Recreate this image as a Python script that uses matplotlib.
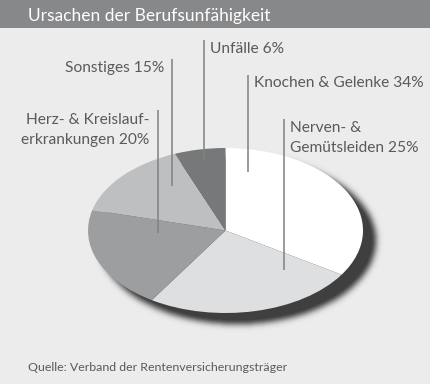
import numpy as np
import matplotlib.pyplot as plt

plt.rcParams['font.family'] = ['Lato', 'DejaVu Sans']

title = 'Ursachen der Berufsunfähigkeit'
source = 'Quelle: Verband der Rentenversicherungsträger'
labels = ['Knochen & Gelenke 34%', 'Nerven- &\nGemütsleiden 25%',
          'Herz- & Kreislauf-\nerkrankungen 20%', 'Sonstiges 15%', 'Unfälle 6%']
shares = [34, 25, 20, 15, 6]
colors = ['#ffffff', '#dedfe0', '#9d9ea0', '#bebfc1', '#77787a']

W, H = 430, 384
fig = plt.figure(figsize=(W / 100, H / 100), dpi=100)
fig.patch.set_facecolor('#ececec')

# background layer in pixel coordinates
bg = fig.add_axes([0, 0, 1, 1])
bg.axis('off')
bg.add_patch(plt.Rectangle((0, 0), W, 28, color='#87888a', lw=0))
bg.text(28, 21, title, color='white', fontsize=12.5, va='baseline')
bg.text(28, 371, source, color='#5a5a5a', fontsize=8.9, va='baseline')

# soft drop shadow under the pie
cx, cy, rx, ry = 225.5, 230.5, 137.5, 82.5
yy, xx = np.mgrid[0:H, 0:W] + 0.5
mask = ((((xx - cx - 12) / (rx + 1)) ** 2 + ((yy - cy - 10) / (ry + 1)) ** 2) <= 1).astype(float)
k = np.exp(-0.5 * (np.arange(-12, 13) / 3.2) ** 2)
k /= k.sum()
mask = np.apply_along_axis(lambda r: np.convolve(r, k, mode='same'), 1, mask)
mask = np.apply_along_axis(lambda c: np.convolve(c, k, mode='same'), 0, mask)
shadow = np.zeros((H, W, 4))
shadow[..., :3] = 0.25
shadow[..., 3] = np.clip(mask * 1.1, 0, 1)
bg.imshow(shadow, extent=(0, W, H, 0), interpolation='bilinear')
bg.set_aspect('auto')
bg.set_xlim(0, W)
bg.set_ylim(H, 0)

# the pie itself, squashed into an ellipse
pax = fig.add_axes([(cx - rx) / W, (H - cy - ry) / H, 2 * rx / W, 2 * ry / H])
pax.pie(shares, colors=colors, startangle=90, counterclock=False, radius=1,
        wedgeprops=dict(linewidth=0))
pax.set_aspect('auto')
pax.set_xlim(-1, 1)
pax.set_ylim(-1, 1)
pax.axis('off')

# labels and leader lines on top
ov = fig.add_axes([0, 0, 1, 1])
ov.set_xlim(0, W)
ov.set_ylim(H, 0)
ov.axis('off')
ov.patch.set_alpha(0)

# line x, line top, line bottom, text x, first baseline, alignment
leaders = [
    (248, 75, 172, 254, 87, 'left'),
    (284, 119, 270, 290, 132, 'left'),
    (158, 110, 233, 149, 124, 'right'),
    (172, 59, 186, 164, 72, 'right'),
    (204, 40, 161, 210, 53, 'left'),
]
for lab, (lx, ly0, ly1, tx, ty, ha) in zip(labels, leaders):
    ov.plot([lx, lx], [ly0, ly1], color='#808080', lw=1.1, solid_capstyle='butt')
    for i, line in enumerate(lab.split('\n')):
        ov.text(tx, ty + 20 * i, line, color='#5a5a5a', fontsize=11.2, ha=ha, va='baseline')

fig.savefig('out.png', dpi=100, facecolor=fig.get_facecolor())
